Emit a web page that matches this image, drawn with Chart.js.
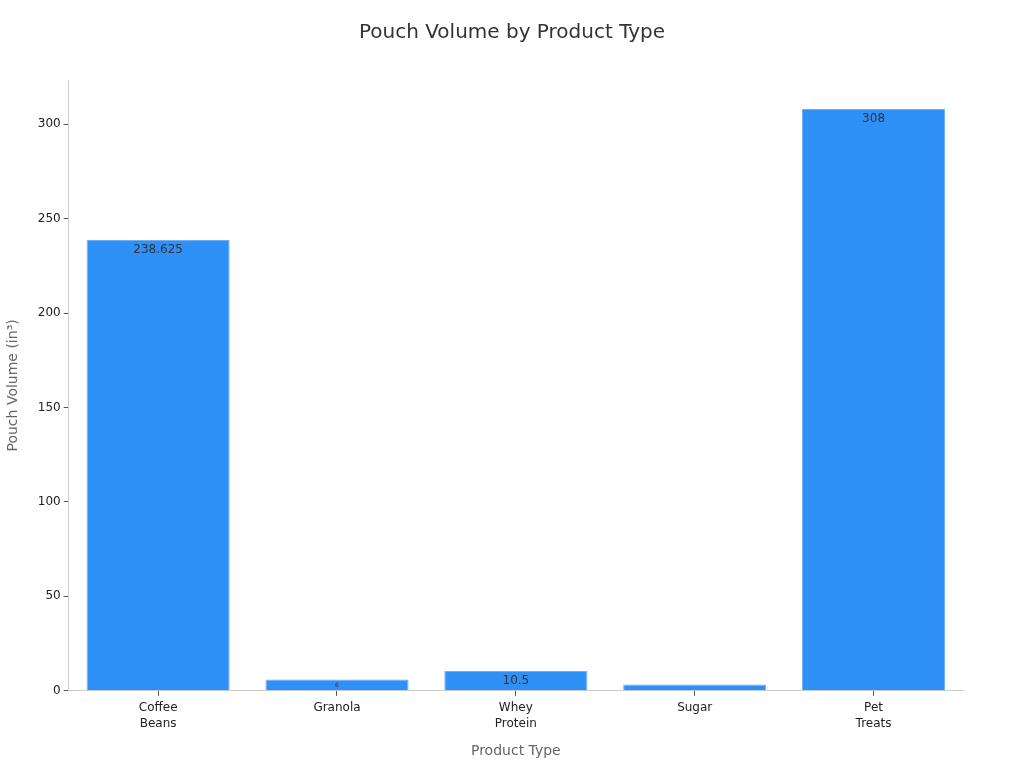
<!DOCTYPE html>
<html><head><meta charset="utf-8">
<script src="https://cdn.jsdelivr.net/npm/chart.js@4.4.1/dist/chart.umd.min.js"></script>
<style>html,body{margin:0;padding:0;background:#fff}#wrap{width:1024px;height:768px}</style>
</head><body><div id="wrap"><canvas id="c" width="1024" height="768"></canvas></div>
<script>
const chartTitle = 'Pouch Volume by Product Type';
const categories = [["Coffee","Beans"],["Granola"],["Whey","Protein"],["Sugar"],["Pet","Treats"]];
const volumes = [238.625, 6, 10.5, 3.4, 308];
const yTicks = [0, 50, 100, 150, 200, 250, 300];

const labelPlugin = {
  id: 'barLabels',
  afterDatasetsDraw(chart) {
    const ctx = chart.ctx;
    const meta = chart.getDatasetMeta(0);
    meta.data.forEach((bar, i) => {
      const h = bar.base - bar.y;
      let size = 12;
      if (h < 18) size = h * 0.55;
      if (size < 5) return;
      ctx.save();
      ctx.beginPath();
      ctx.rect(bar.x - bar.width / 2, bar.y, bar.width, h);
      ctx.clip();
      ctx.fillStyle = '#333';
      ctx.font = size + 'px "DejaVu Sans"';
      ctx.textAlign = 'center';
      ctx.textBaseline = 'top';
      ctx.fillText(String(volumes[i]), bar.x, bar.y + (h < 18 ? 3 : 4));
      ctx.restore();
    });
  },
  afterDraw(chart) {
    const ctx = chart.ctx;
    ctx.save();
    ctx.fillStyle = '#333';
    ctx.font = '20px "DejaVu Sans"';
    ctx.textAlign = 'center';
    ctx.textBaseline = 'middle';
    ctx.fillText(chartTitle, chart.width / 2, 33);
    ctx.restore();
  }
};

Chart.defaults.font.family = '"DejaVu Sans", sans-serif';
new Chart(document.getElementById('c'), {
  type: 'bar',
  data: {
    labels: categories,
    datasets: [{
      data: volumes,
      backgroundColor: '#2f90f8',
      borderColor: '#6cb0fa',
      borderWidth: 1,
      categoryPercentage: 1.0,
      barPercentage: 0.8
    }]
  },
  options: {
    responsive: false,
    animation: false,
    layout: { padding: { left: 1, right: 61, top: 80, bottom: 8 } },
    plugins: {
      legend: { display: false },
      tooltip: { enabled: false },
      title: { display: false }
    },
    scales: {
      x: {
        grid: { display: true, offset: false, drawOnChartArea: false, drawTicks: true, tickLength: 5, color: '#555' },
        border: { display: true, color: '#ccc' },
        ticks: { color: '#222', font: { size: 12, lineHeight: 1.35 }, padding: 4 },
        title: { display: true, text: 'Product Type', color: '#666', font: { size: 14 }, padding: { top: 7, bottom: 0 } }
      },
      y: {
        min: 0,
        max: 308 * 1.05,
        afterBuildTicks(axis) { axis.ticks = yTicks.map(v => ({ value: v })); },
        grid: { display: true, drawOnChartArea: false, drawTicks: true, tickLength: 5, color: '#555' },
        border: { display: true, color: '#ccc' },
        ticks: { color: '#222', font: { size: 12 }, padding: 3 },
        title: { display: true, text: 'Pouch Volume (in³)', color: '#666', font: { size: 14 }, padding: { bottom: 13 } }
      }
    }
  },
  plugins: [labelPlugin]
});
</script></body></html>
